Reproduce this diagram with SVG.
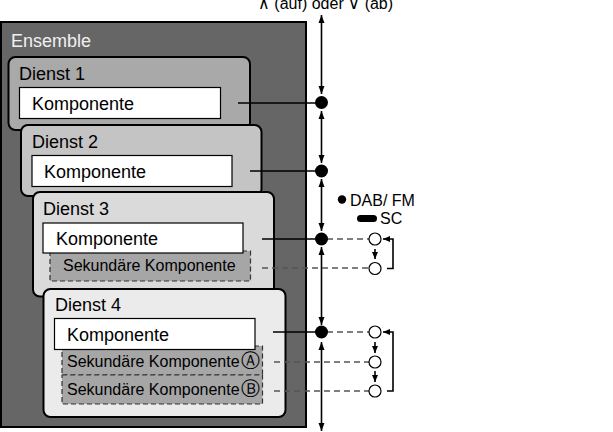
<svg xmlns="http://www.w3.org/2000/svg" width="613" height="432" viewBox="0 0 613 432">
<defs>
<marker id="ah" markerWidth="8" markerHeight="7" refX="8" refY="3.5" orient="auto-start-reverse" markerUnits="userSpaceOnUse"><path d="M0,0.5 L8,3.5 L0,6.5 z" fill="#000"/></marker>
<marker id="sa" markerWidth="7" markerHeight="6" refX="7" refY="3" orient="auto-start-reverse" markerUnits="userSpaceOnUse"><path d="M0,0 L7,3 L0,6 z" fill="#000"/></marker>
</defs>
<style>
text{font-family:"Liberation Sans",Arial,sans-serif;fill:#000}
.big{font-size:18px}
.sek{font-size:16px}
.circ{font-size:19px}
.dienst{stroke:#000;stroke-width:2}
.komp{fill:#fff;stroke:#000;stroke-width:1.2}
.sekbox{fill:#a6a6a6;stroke:#333;stroke-width:1.2;stroke-dasharray:5 3}
.solid{stroke:#000;stroke-width:1.6;fill:none}
.dash{stroke:#555;stroke-width:1.4;stroke-dasharray:6 4;fill:none}
.vline{stroke:#000;stroke-width:1.6;fill:none;marker-start:url(#ah);marker-end:url(#ah)}
.ocirc{fill:#fff;stroke:#000;stroke-width:1.2}
</style>
<rect width="613" height="432" fill="#fff"/>
<text x="325.5" y="9" text-anchor="middle" class="sek">∧ (auf) oder ∨ (ab)</text>
<g id="ensemble">
<rect x="1" y="22" width="305" height="405" fill="#666" stroke="#000" stroke-width="2"/>
<text x="11" y="47" class="big" style="fill:#f0f0f0">Ensemble</text>
</g>
<g id="dienst1">
<rect x="8.5" y="57" width="241.5" height="73" rx="7" fill="#a9a9a9" class="dienst"/>
<text x="19" y="80" class="big">Dienst 1</text>
<rect x="19.5" y="87.5" width="201" height="31" class="komp"/>
<text x="32" y="110" class="big">Komponente</text>
</g>
<g id="dienst2">
<rect x="21" y="125" width="240.5" height="71" rx="7" fill="#c4c4c4" class="dienst"/>
<text x="32" y="148" class="big">Dienst 2</text>
<rect x="32" y="155.5" width="200" height="31" class="komp"/>
<text x="44" y="178" class="big">Komponente</text>
</g>
<g id="dienst3">
<rect x="33" y="192" width="241" height="104.5" rx="7" fill="#dadada" class="dienst"/>
<text x="43" y="215" class="big">Dienst 3</text>
<rect x="50" y="251" width="200.5" height="30" class="sekbox"/>
<rect x="43" y="223" width="200" height="30" class="komp"/>
<text x="56" y="245" class="big">Komponente</text>
<text x="63" y="271" class="sek">Sekundäre Komponente</text>
</g>
<g id="dienst4">
<rect x="43.5" y="289" width="242" height="128" rx="7" fill="#ebebeb" class="dienst"/>
<text x="55" y="311" class="big">Dienst 4</text>
<rect x="62" y="346" width="200.5" height="29" class="sekbox"/>
<rect x="62" y="375" width="200.5" height="29" class="sekbox"/>
<rect x="54.5" y="318.5" width="200.5" height="31" class="komp"/>
<text x="67" y="341" class="big">Komponente</text>
<text x="67" y="367" class="sek">Sekundäre Komponente<tspan class="circ" dx="1">Ⓐ</tspan></text>
<text x="67" y="395" class="sek">Sekundäre Komponente<tspan class="circ" dx="1">Ⓑ</tspan></text>
</g>
<g id="legend">
<circle cx="342" cy="199.5" r="4.2" fill="#000"/>
<text x="350" y="205.5" class="sek">DAB/ FM</text>
<rect x="357" y="215" width="20" height="7" rx="3.5" fill="#000"/>
<text x="380" y="224" class="sek">SC</text>
</g>
<g id="connectors">
<line x1="321.5" y1="15" x2="321.5" y2="94" class="vline"/>
<line x1="321.5" y1="111" x2="321.5" y2="163" class="vline"/>
<line x1="321.5" y1="179" x2="321.5" y2="231" class="vline"/>
<line x1="321.5" y1="247" x2="321.5" y2="325" class="vline"/>
<line x1="321.5" y1="342" x2="321.5" y2="431" class="vline"/>
<line x1="238" y1="103" x2="321.5" y2="103" class="solid"/>
<line x1="250" y1="171" x2="321.5" y2="171" class="solid"/>
<line x1="262" y1="239" x2="321.5" y2="239" class="solid"/>
<line x1="273" y1="332" x2="321.5" y2="332" class="solid"/>
<line x1="327" y1="239" x2="369" y2="239" class="dash"/>
<line x1="262" y1="268" x2="369" y2="268" class="dash"/>
<line x1="327" y1="332" x2="369" y2="332" class="dash"/>
<line x1="274" y1="362" x2="369" y2="362" class="dash"/>
<line x1="274" y1="391" x2="369" y2="391" class="dash"/>
<circle cx="321.5" cy="102.5" r="6.5" fill="#000"/>
<circle cx="321.5" cy="171" r="6.5" fill="#000"/>
<circle cx="321.5" cy="239" r="6.5" fill="#000"/>
<circle cx="321.5" cy="332" r="6.5" fill="#000"/>
<circle cx="375" cy="239" r="6" class="ocirc"/>
<circle cx="375" cy="268.5" r="6" class="ocirc"/>
<circle cx="375" cy="332" r="6" class="ocirc"/>
<circle cx="375" cy="362" r="6" class="ocirc"/>
<circle cx="375" cy="391" r="6" class="ocirc"/>
<line x1="375" y1="249" x2="375" y2="259" class="solid" style="marker-end:url(#sa)"/>
<line x1="375" y1="342" x2="375" y2="353" class="solid" style="marker-end:url(#sa)"/>
<line x1="375" y1="371" x2="375" y2="382" class="solid" style="marker-end:url(#sa)"/>
<path d="M387 268.5 H393 V239 H383" class="solid" style="marker-end:url(#sa)"/>
<path d="M387 391 H393 V332 H383" class="solid" style="marker-end:url(#sa)"/>
</g>
</svg>
